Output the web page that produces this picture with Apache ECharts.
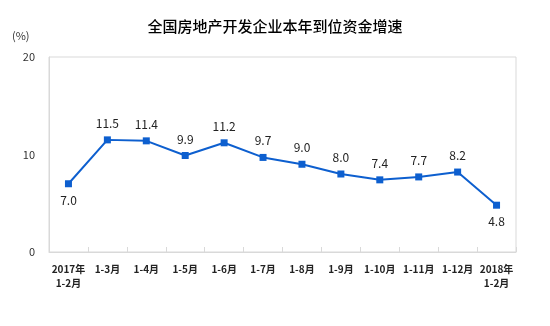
<!DOCTYPE html>
<html><head><meta charset="utf-8">
<script src="https://cdn.jsdelivr.net/npm/echarts@6/dist/echarts.min.js"></script>
<style>html,body{margin:0;padding:0;background:#fff}#c{width:550px;height:326px}</style>
</head><body><div id="c"></div>
<script>
const title = '全国房地产开发企业本年到位资金增速';
const categories = ['2017年\n1-2月','1-3月','1-4月','1-5月','1-6月','1-7月','1-8月','1-9月','1-10月','1-11月','1-12月','2018年\n1-2月'];
const values = [7.0, 11.5, 11.4, 9.9, 11.2, 9.7, 9.0, 8.0, 7.4, 7.7, 8.2, 4.8];
const belowIdx = [0, 11];
const yTicks = [0, 10, 20];

const chart = echarts.init(document.getElementById('c'), null, {renderer: 'canvas'});
const font = '"Noto Sans CJK SC", "Noto Sans", sans-serif';
chart.setOption({
  animation: false,
  title: {text: title, left: 'center', top: 14, textStyle: {fontSize: 15, fontWeight: 500, color: '#000', fontFamily: font}},
  grid: {left: 49, right: 34, top: 57, bottom: 74},
  xAxis: {
    type: 'category', data: categories, boundaryGap: true,
    axisLine: {show: true, lineStyle: {color: '#d9d9d9', width: 1}},
    axisTick: {show: true, inside: true, length: 5, lineStyle: {color: '#d9d9d9'}},
    axisLabel: {interval: 0, fontSize: 10, color: '#222', fontFamily: font, margin: 10, lineHeight: 14, fontWeight: 'bold'}
  },
  yAxis: {
    type: 'value', min: yTicks[0], max: yTicks[2], interval: yTicks[1] - yTicks[0],
    axisLine: {show: true, lineStyle: {color: '#d9d9d9'}},
    axisTick: {show: false},
    splitLine: {show: false},
    axisLabel: {fontSize: 11, color: '#333', fontFamily: font, margin: 14}
  },
  series: [{
    type: 'line', data: values.map((v, i) => ({value: v, label: {position: belowIdx.includes(i) ? 'bottom' : 'top'}})),
    symbol: 'rect', symbolSize: 7,
    lineStyle: {color: '#0d5fcf', width: 2},
    itemStyle: {color: '#0d5fcf'},
    label: {show: true, fontSize: 12, color: '#222', fontFamily: font, distance: 7, formatter: p => p.value.toFixed(1)}
  }]
});
const gridRect = chart.getModel().getComponent('grid').coordinateSystem.getRect();
chart.setOption({graphic: [{type: 'text', left: 12, top: 30, style: {text: '(%)', fontSize: 11, fill: '#333', fontFamily: font}},
  {type: 'rect', shape: {x: gridRect.x, y: gridRect.y, width: gridRect.width, height: gridRect.height}, style: {fill: 'none', stroke: '#d9d9d9', lineWidth: 1}, silent: true, z: -1}]});
</script></body></html>
